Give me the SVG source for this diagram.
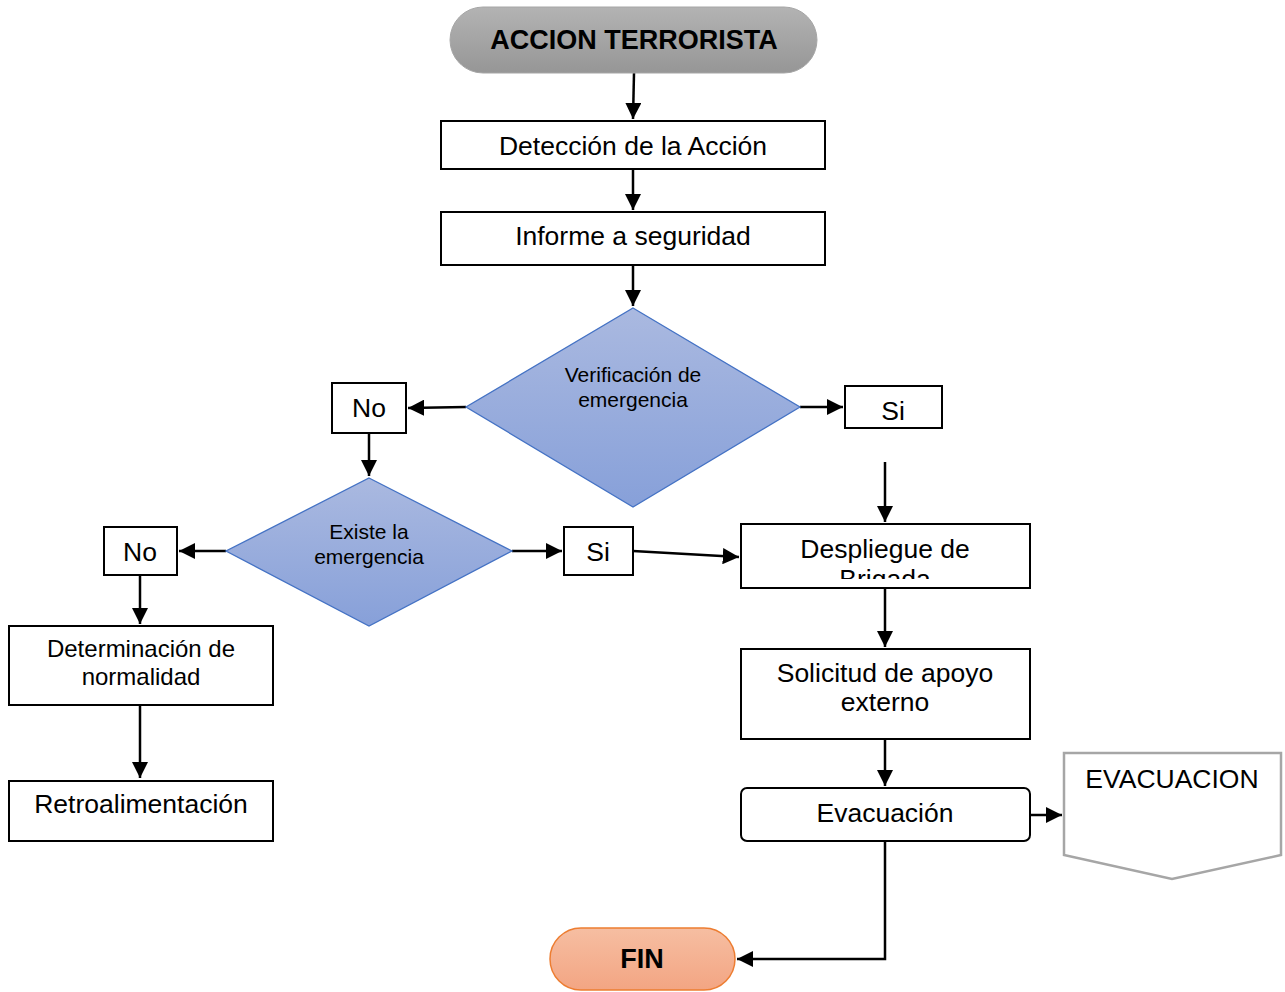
<svg xmlns="http://www.w3.org/2000/svg" width="1285" height="992" viewBox="0 0 1285 992">
<style>
text{font-family:"Liberation Sans",Arial,sans-serif;fill:#000;text-anchor:middle}
.t{font-size:26.5px}
.s{font-size:24px}
.d{font-size:21px}
.b{font-size:27px;font-weight:bold}
.box{fill:#fff;stroke:#000;stroke-width:2}
.dia{fill:url(#gb);stroke:#4472c4;stroke-width:1.3}
.c{fill:none;stroke:#000;stroke-width:2.5;marker-end:url(#ah)}
</style>
<defs>
<linearGradient id="gg" x1="0" y1="0" x2="0" y2="1"><stop offset="0" stop-color="#b3b3b3"/><stop offset="1" stop-color="#969696"/></linearGradient>
<linearGradient id="gb" x1="0" y1="0" x2="0" y2="1"><stop offset="0" stop-color="#aab9e0"/><stop offset="1" stop-color="#87a0d9"/></linearGradient>
<linearGradient id="go" x1="0" y1="0" x2="0" y2="1"><stop offset="0" stop-color="#f6bea2"/><stop offset="1" stop-color="#f3a583"/></linearGradient>
<marker id="ah" viewBox="0 0 10 10" refX="10" refY="5" markerWidth="6.5" markerHeight="6.5" markerUnits="strokeWidth" orient="auto"><path d="M0,0 L10,5 L0,10 z" fill="#000"/></marker>
<clipPath id="clipD"><rect x="741" y="524" width="289" height="55"/></clipPath>
</defs>
<g id="connectors">
<path class="c" d="M634,73 L633,119"/>
<path class="c" d="M633,169 L633,210"/>
<path class="c" d="M633,265 L633,306"/>
<path class="c" d="M466,407 L408,408"/>
<path class="c" d="M800,407 L843,407"/>
<path class="c" d="M885,462 L885,522"/>
<path class="c" d="M369,433 L369,476"/>
<path class="c" d="M226,551 L179,551"/>
<path class="c" d="M512,551 L562,551"/>
<path class="c" d="M633,551 L739,557"/>
<path class="c" d="M140,575 L140,624"/>
<path class="c" d="M140,705 L140,778"/>
<path class="c" d="M885,588 L885,647"/>
<path class="c" d="M885,739 L885,786"/>
<path class="c" d="M1030,815 L1062,815"/>
<path class="c" d="M885,841 L885,959 L737,959"/>
</g>
<g id="start">
<rect x="450" y="7" width="367" height="66" rx="33" fill="url(#gg)" stroke="#a6a6a6" stroke-width="1"/>
<text class="b" x="634" y="49">ACCION TERRORISTA</text>
</g>
<g id="deteccion">
<rect class="box" x="441" y="121" width="384" height="48"/>
<text class="t" x="633" y="155">Detección de la Acción</text>
</g>
<g id="informe">
<rect class="box" x="441" y="212" width="384" height="53"/>
<text class="t" x="633" y="245">Informe a seguridad</text>
</g>
<g id="verificacion">
<polygon class="dia" points="633,308 800,407 633,507 466,407"/>
<text class="d" x="633" y="382">Verificación de</text>
<text class="d" x="633" y="407">emergencia</text>
</g>
<g id="no1">
<rect class="box" x="332" y="383" width="74" height="50"/>
<text class="t" x="369" y="417">No</text>
</g>
<g id="si1">
<rect class="box" x="845" y="386" width="97" height="42"/>
<text class="t" x="893" y="420">Si</text>
</g>
<g id="existe">
<polygon class="dia" points="369,478 512,551 369,626 226,551"/>
<text class="d" x="369" y="539">Existe la</text>
<text class="d" x="369" y="564">emergencia</text>
</g>
<g id="no2">
<rect class="box" x="104" y="527" width="73" height="48"/>
<text class="t" x="140" y="561">No</text>
</g>
<g id="si2">
<rect class="box" x="564" y="527" width="69" height="48"/>
<text class="t" x="598" y="561">Si</text>
</g>
<g id="despliegue">
<rect class="box" x="741" y="524" width="289" height="64"/>
<g clip-path="url(#clipD)">
<text class="t" x="885" y="558">Despliegue de</text>
<text class="t" x="885" y="588">Brigada</text>
</g>
</g>
<g id="solicitud">
<rect class="box" x="741" y="649" width="289" height="90"/>
<text class="t" x="885" y="682">Solicitud de apoyo</text>
<text class="t" x="885" y="711">externo</text>
</g>
<g id="evacuacion">
<rect class="box" x="741" y="788" width="289" height="53" rx="6"/>
<text class="t" x="885" y="822">Evacuación</text>
</g>
<g id="evacuacion-ref">
<polygon points="1064,753 1281,753 1281,855 1172,879 1064,855" fill="#fff" stroke="#a6a6a6" stroke-width="2.5"/>
<text class="t" x="1172" y="788">EVACUACION</text>
</g>
<g id="determinacion">
<rect class="box" x="9" y="626" width="264" height="79"/>
<text class="s" x="141" y="657">Determinación de</text>
<text class="s" x="141" y="685">normalidad</text>
</g>
<g id="retro">
<rect class="box" x="9" y="781" width="264" height="60"/>
<text class="t" x="141" y="813">Retroalimentación</text>
</g>
<g id="fin">
<rect x="550" y="928" width="185" height="62" rx="31" fill="url(#go)" stroke="#ed7d31" stroke-width="1.5"/>
<text class="b" x="642" y="968">FIN</text>
</g>
</svg>
